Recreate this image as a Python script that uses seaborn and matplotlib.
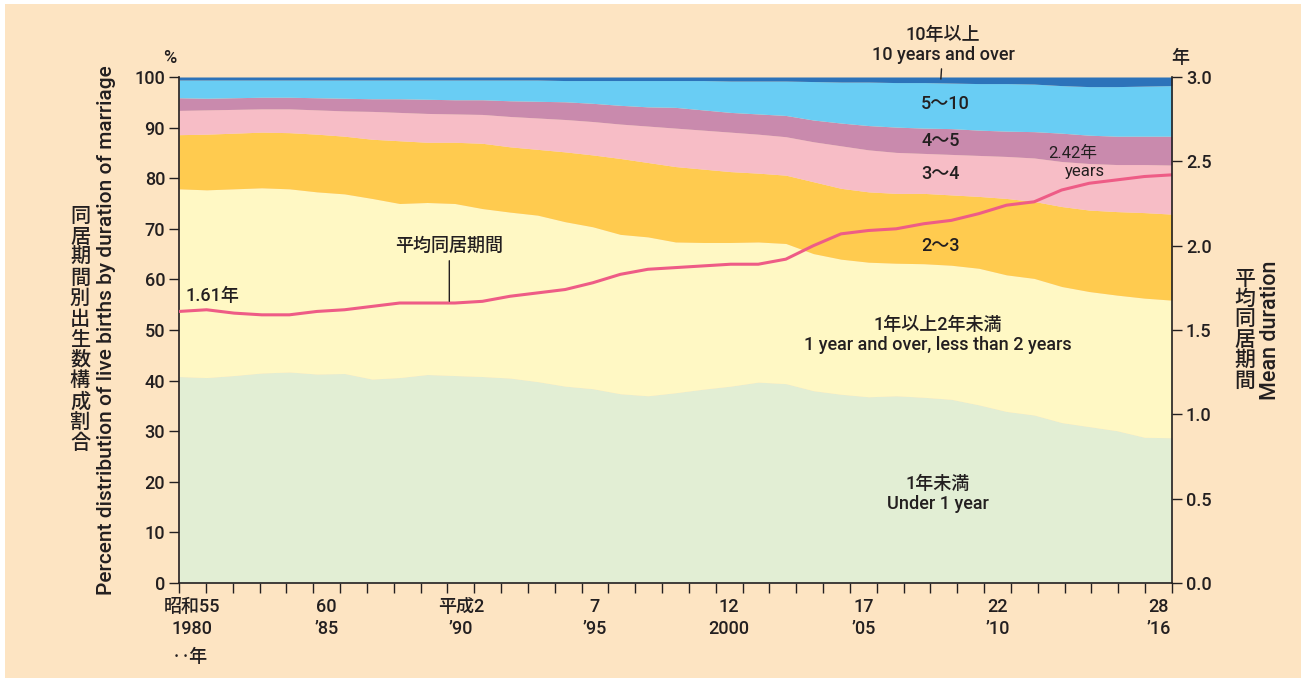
import numpy as np
import matplotlib
matplotlib.use('Agg')
import matplotlib.pyplot as plt
import seaborn as sns
from matplotlib.patches import Rectangle

# data, 1980-2016
years = np.arange(1980, 2017)

under_1 = [40.8, 40.6, 41.0, 41.5, 41.7, 41.3, 41.4, 40.3, 40.6, 41.2,
           41.0, 40.8, 40.5, 39.8, 38.9, 38.4, 37.4, 37.0, 37.6, 38.3,
           38.9, 39.7, 39.4, 38.0, 37.3, 36.8, 37.0, 36.7, 36.3, 35.2,
           33.9, 33.2, 31.7, 30.9, 30.1, 28.8, 28.7]
yr_1_2 = [37.1, 37.1, 36.9, 36.6, 36.2, 36.0, 35.5, 35.7, 34.4, 34.0,
          34.0, 33.2, 32.8, 32.9, 32.5, 32.0, 31.5, 31.4, 29.8, 29.0,
          28.4, 27.7, 27.7, 27.1, 26.7, 26.6, 26.2, 26.4, 26.5, 27.0,
          27.0, 27.0, 26.9, 26.7, 26.8, 27.5, 27.2]
yr_2_3 = [10.7, 11.0, 11.0, 11.0, 11.1, 11.4, 11.4, 11.7, 12.4, 11.9,
          12.1, 12.9, 12.9, 13.0, 13.8, 14.2, 15.0, 14.7, 14.9, 14.5,
          14.0, 13.6, 13.5, 14.2, 14.0, 13.9, 13.8, 13.9, 13.9, 14.2,
          15.1, 15.2, 15.8, 16.1, 16.5, 16.9, 17.0]
yr_3_4 = [4.8, 4.8, 4.7, 4.6, 4.7, 4.8, 5.0, 5.5, 5.6, 5.7,
          5.6, 5.7, 6.0, 6.2, 6.4, 6.6, 6.8, 7.2, 7.6, 7.7,
          7.8, 7.7, 7.6, 7.9, 8.4, 8.3, 8.1, 7.9, 8.0, 8.1,
          8.3, 8.6, 8.9, 9.2, 9.3, 9.5, 9.7]
yr_4_5 = [2.5, 2.3, 2.3, 2.3, 2.3, 2.4, 2.5, 2.5, 2.7, 2.8,
          2.8, 2.9, 3.1, 3.3, 3.5, 3.6, 3.7, 3.8, 4.1, 4.0,
          3.9, 4.0, 4.2, 4.3, 4.5, 4.8, 5.0, 5.0, 5.1, 5.0,
          5.0, 5.2, 5.6, 5.6, 5.6, 5.6, 5.7]
yr_5_10 = [3.5, 3.6, 3.5, 3.4, 3.4, 3.5, 3.6, 3.7, 3.7, 3.8,
           3.9, 3.9, 4.1, 4.2, 4.2, 4.5, 4.9, 5.2, 5.3, 5.8,
           6.2, 6.5, 6.8, 7.6, 8.1, 8.6, 8.8, 9.0, 9.0, 9.2,
           9.4, 9.4, 9.4, 9.6, 9.8, 9.9, 10.0]
yr_10_over = [0.6, 0.6, 0.6, 0.6, 0.6, 0.6, 0.6, 0.6, 0.6, 0.6,
              0.6, 0.6, 0.6, 0.6, 0.7, 0.7, 0.7, 0.7, 0.7, 0.7,
              0.8, 0.8, 0.8, 0.9, 1.0, 1.0, 1.1, 1.1, 1.2, 1.3,
              1.3, 1.4, 1.7, 1.9, 1.9, 1.8, 1.7]

mean_duration = [1.61, 1.62, 1.60, 1.59, 1.59, 1.61, 1.62, 1.64, 1.66, 1.66,
                 1.66, 1.67, 1.70, 1.72, 1.74, 1.78, 1.83, 1.86, 1.87, 1.88,
                 1.89, 1.89, 1.92, 2.00, 2.07, 2.09, 2.10, 2.13, 2.15, 2.19,
                 2.24, 2.26, 2.33, 2.37, 2.39, 2.41, 2.42]

label_years = [1980, 1985, 1990, 1995, 2000, 2005, 2010, 2016]
label_text = ['昭和55\n1980', '60\n’85', '平成2\n’90', '7\n’95',
              '12\n2000', '17\n’05', '22\n’10', '28\n’16']

bg = '#FDE4C2'
dark = '#231F20'
colors = ['#E2EED4', '#FFF8C4', '#FFCB4F', '#F7BDC6', '#C98AAD', '#69CDF4', '#2C73BA']
line_color = '#EE5C86'

sns.set_theme(style='ticks')
plt.rcParams['font.family'] = ['Roboto', 'Noto Sans CJK JP']
plt.rcParams['font.weight'] = 'medium'
plt.rcParams['text.color'] = dark

fig = plt.figure(figsize=(13.06, 6.82), dpi=100)
fig.patch.set_facecolor('white')
fig.patches.append(Rectangle((0.004, 0.006), 0.992, 0.988, transform=fig.transFigure,
                             facecolor=bg, edgecolor='none', zorder=-10))

ax = fig.add_axes([179 / 1306, 99 / 682, 993 / 1306, 506 / 682])
ax.set_facecolor('none')
ax.stackplot(years, under_1, yr_1_2, yr_2_3, yr_3_4, yr_4_5, yr_5_10, yr_10_over,
             colors=colors, linewidth=0, antialiased=True)
ax.set_xlim(years[0], years[-1])
ax.set_ylim(0, 100)

# category-style x axis: ticks between years, labels centred on each year
step = (years[-1] - years[0]) / len(years)
bounds = years[0] + step * np.arange(len(years) + 1)
centers = bounds[:-1] + step / 2
ax.set_xticks(bounds, minor=True)
ax.set_xticks([centers[list(years).index(y)] for y in label_years])
ax.set_xticklabels(label_text)
ax.tick_params(axis='x', which='minor', length=7, width=1, color=dark, direction='out')
ax.tick_params(axis='x', which='major', length=0, pad=11, labelsize=13, labelcolor=dark)
for t in ax.get_xticklabels():
    t.set_linespacing(1.25)

ax.set_yticks(range(0, 101, 10))
ax.tick_params(axis='y', length=7, width=1, color=dark, direction='out', labelsize=13,
               labelcolor=dark, pad=3)
for s in ['top', 'right']:
    ax.spines[s].set_visible(False)
for s in ['left', 'bottom']:
    ax.spines[s].set_color(dark)
    ax.spines[s].set_linewidth(1.2)

ax2 = ax.twinx()
sns.lineplot(x=years, y=mean_duration, ax=ax2, color=line_color, linewidth=2.2)
ax2.set_ylim(0, 3)
ax2.set_yticks(np.arange(0, 3.01, 0.5))
ax2.set_yticklabels([f'{v:.1f}' for v in np.arange(0, 3.01, 0.5)])
ax2.tick_params(axis='y', length=7, width=1, color=dark, direction='out', labelsize=13,
                labelcolor=dark, pad=3)
ax2.set_ylabel('')
for s in ['top', 'left', 'bottom']:
    ax2.spines[s].set_visible(False)
ax2.spines['right'].set_color(dark)
ax2.spines['right'].set_linewidth(1.2)

# labels inside the plot
fs = 13
ax.text(2007.77, 94.7, '5〜10', ha='center', va='center', fontsize=fs)
ax.text(2007.6, 87.35, '4〜5', ha='center', va='center', fontsize=fs)
ax.text(2007.6, 80.8, '3〜4', ha='center', va='center', fontsize=fs)
ax.text(2007.6, 66.6, '2〜3', ha='center', va='center', fontsize=fs)
ax.text(2007.5, 49.0, '1年以上2年未満\n1 year and over, less than 2 years',
        ha='center', va='center', fontsize=fs, linespacing=1.15)
ax.text(2007.5, 17.6, '1年未満\nUnder 1 year', ha='center', va='center',
        fontsize=fs, linespacing=1.15)
ax.text(2012.4, 84.0, '2.42年', ha='center', va='baseline', fontsize=12, weight='normal')
ax.text(2012.85, 80.4, 'years', ha='center', va='baseline', fontsize=12, weight='normal')
ax.text(1981.2, 56.7, '1.61年', ha='center', va='center', fontsize=fs)
ax.annotate('10年以上\n10 years and over', xy=(2007.62, 99.6), xytext=(2007.7, 106.3),
            ha='center', va='center', fontsize=fs, linespacing=1.15,
            annotation_clip=False,
            arrowprops=dict(arrowstyle='-', color=dark, lw=1, shrinkA=1, shrinkB=0))
ax2.annotate('平均同居期間', xy=(1989.8, 1.67), xytext=(1989.8, 2.0),
             ha='center', va='center', fontsize=fs,
             arrowprops=dict(arrowstyle='-', color=dark, lw=1, shrinkA=2, shrinkB=0))

# axis titles and units
fig.text(170 / 1306, 1 - 58 / 682, '%', ha='center', va='center', fontsize=13)
fig.text(1180 / 1306, 1 - 58 / 682, '年', ha='center', va='center', fontsize=13)
fig.text(190 / 1306, 1 - 657 / 682, '‥年', ha='center', va='center', fontsize=13,
         family=['Noto Sans CJK JP'])
fig.text(107 / 1306, 1 - 330 / 682, 'Percent distribution of live births by duration of marriage',
         rotation=90, ha='center', va='center', fontsize=15)
fig.text(80 / 1306, 1 - 330 / 682, '\n'.join('同居期間別出生数構成割合'),
         ha='center', va='center', fontsize=14.5, linespacing=1.1)
fig.text(1245 / 1306, 1 - 330 / 682, '\n'.join('平均同居期間'),
         ha='center', va='center', fontsize=15, linespacing=1.08)
fig.text(1271 / 1306, 1 - 330 / 682, 'Mean duration', rotation=90,
         ha='center', va='center', fontsize=15.5)

fig.savefig('out.png', dpi=100, facecolor='white')
